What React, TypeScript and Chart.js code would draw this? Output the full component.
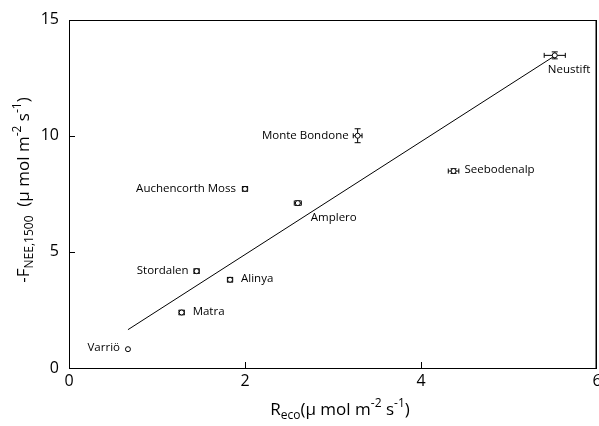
import React, { useEffect, useRef } from "react";
import { Chart, registerables } from "chart.js";
Chart.register(...registerables);

const sites = ["Neustift", "Monte Bondone", "Seebodenalp", "Auchencorth Moss", "Amplero", "Stordalen", "Alinya", "Matra", "Varriö"];
const reco = [5.52, 3.28, 4.37, 2.0, 2.6, 1.45, 1.83, 1.28, 0.67];
const fnee = [13.46, 10.0, 8.48, 7.71, 7.1, 4.17, 3.8, 2.39, 0.81];
const recoErr = [0.12, 0.05, 0.06, 0.03, 0.04, 0.03, 0.03, 0.03, 0.0];
const fneeErr = [0.15, 0.3, 0.1, 0.1, 0.1, 0.1, 0.1, 0.1, 0.0];
const fitX = [0.67, 5.52];
const fitY = [1.65, 13.44];
const xTicks = [0, 2, 4, 6];
const yTicks = [0, 5, 10, 15];

const FONT = "'Open Sans', 'Liberation Sans', sans-serif";

// label placement: [dx, dy, align]
const labelPos: Record<string, [number, number, CanvasTextAlign]> = {
  "Neustift": [-7, 14, "left"],
  "Monte Bondone": [-9, 0, "right"],
  "Seebodenalp": [11, -1, "left"],
  "Auchencorth Moss": [-9, 0, "right"],
  "Amplero": [13, 15, "left"],
  "Stordalen": [-8, 0, "right"],
  "Alinya": [11, -1, "left"],
  "Matra": [11, -1, "left"],
  "Varriö": [-8, -1, "right"],
};

type Seg = { t: string; k: "n" | "sub" | "sup" };

function drawRich(ctx: CanvasRenderingContext2D, segs: Seg[], size: number) {
  const w = segs.reduce((acc, s) => {
    ctx.font = `${s.k === "n" ? size : Math.round(size * 0.68)}px ${FONT}`;
    return acc + ctx.measureText(s.t).width;
  }, 0);
  let x = -w / 2;
  for (const s of segs) {
    const fs = s.k === "n" ? size : Math.round(size * 0.68);
    ctx.font = `${fs}px ${FONT}`;
    const dy = s.k === "sub" ? size * 0.3 : s.k === "sup" ? -size * 0.38 : 0;
    ctx.fillText(s.t, x, dy);
    x += ctx.measureText(s.t).width;
  }
}

const overlay = {
  id: "overlay",
  afterDraw(chart: any) {
    const ctx = chart.ctx as CanvasRenderingContext2D;
    const xs = chart.scales.x;
    const ys = chart.scales.y;
    const a = chart.chartArea;
    ctx.save();
    ctx.strokeStyle = "#000";
    ctx.fillStyle = "#000";
    ctx.lineWidth = 1;
    const L = Math.round(xs.getPixelForValue(0));
    const R = Math.round(xs.getPixelForValue(6));
    const T = Math.round(ys.getPixelForValue(15));
    const B = Math.round(ys.getPixelForValue(0));
    // frame as filled rects
    ctx.fillRect(L, T, R - L, 1);
    ctx.fillRect(L, B, R - L, 1);
    ctx.fillRect(L, T, 1, B - T + 1);
    ctx.fillRect(R - 1.5, T, 1.5, B - T + 1);
    // inward ticks
    for (const t of xTicks) {
      const px = Math.min(Math.round(xs.getPixelForValue(t)), R - 1);
      ctx.fillRect(px, B - 6, 1, 6);
    }
    for (const t of yTicks) {
      const py = Math.round(ys.getPixelForValue(t));
      ctx.fillRect(L, py, 6, 1);
    }
    // x tick labels
    ctx.font = `16px ${FONT}`;
    ctx.textAlign = "center";
    ctx.textBaseline = "top";
    for (const t of xTicks) {
      ctx.fillText(String(t), xs.getPixelForValue(t), a.bottom + 5);
    }
    // error bars + markers
    for (let i = 0; i < sites.length; i++) {
      const px = xs.getPixelForValue(reco[i]);
      const py = ys.getPixelForValue(fnee[i]);
      const x1 = xs.getPixelForValue(reco[i] - recoErr[i]);
      const x2 = xs.getPixelForValue(reco[i] + recoErr[i]);
      const y1 = ys.getPixelForValue(fnee[i] - fneeErr[i]);
      const y2 = ys.getPixelForValue(fnee[i] + fneeErr[i]);
      ctx.beginPath();
      if (recoErr[i] > 0) {
        ctx.moveTo(x1, py); ctx.lineTo(x2, py);
        ctx.moveTo(x1, py - 2.5); ctx.lineTo(x1, py + 2.5);
        ctx.moveTo(x2, py - 2.5); ctx.lineTo(x2, py + 2.5);
      }
      if (fneeErr[i] > 0) {
        ctx.moveTo(px, y1); ctx.lineTo(px, y2);
        ctx.moveTo(px - 3, y1); ctx.lineTo(px + 3, y1);
        ctx.moveTo(px - 3, y2); ctx.lineTo(px + 3, y2);
      }
      ctx.stroke();
      ctx.beginPath();
      ctx.fillStyle = "#fff";
      ctx.arc(px, py, 2.5, 0, Math.PI * 2);
      ctx.fill();
      ctx.stroke();
      // label
      const [dx, dy, al] = labelPos[sites[i]];
      ctx.fillStyle = "#000";
      ctx.font = `11.5px ${FONT}`;
      ctx.textAlign = al;
      ctx.textBaseline = "middle";
      ctx.fillText(sites[i], px + dx, py + dy);
    }
    // axis titles
    ctx.fillStyle = "#000";
    ctx.textAlign = "left";
    ctx.textBaseline = "middle";
    ctx.save();
    ctx.translate(340, 410);
    drawRich(ctx, [
      { t: "R", k: "n" }, { t: "eco", k: "sub" }, { t: "(µ mol m", k: "n" }, { t: "-2", k: "sup" },
      { t: " s", k: "n" }, { t: "-1", k: "sup" }, { t: ")", k: "n" },
    ], 17);
    ctx.restore();
    ctx.save();
    ctx.translate(24, 190);
    ctx.rotate(-Math.PI / 2);
    drawRich(ctx, [
      { t: "-F", k: "n" }, { t: "NEE,1500", k: "sub" }, { t: "  (µ mol m", k: "n" }, { t: "-2", k: "sup" },
      { t: " s", k: "n" }, { t: "-1", k: "sup" }, { t: ")", k: "n" },
    ], 17);
    ctx.restore();
    ctx.restore();
  },
};

export default function App() {
  const ref = useRef<HTMLCanvasElement>(null);
  useEffect(() => {
    document.body.style.margin = "0";
    document.documentElement.style.overflow = "hidden";
    const chart = new Chart(ref.current!, {
      type: "scatter",
      data: {
        datasets: [
          {
            type: "line",
            data: fitX.map((x, i) => ({ x, y: fitY[i] })),
            borderColor: "#000",
            borderWidth: 1,
            pointRadius: 0,
            fill: false,
          } as any,
          {
            data: reco.map((x, i) => ({ x, y: fnee[i] })),
            pointRadius: 0,
            showLine: false,
          },
        ],
      },
      options: {
        responsive: false,
        animation: false,
        layout: { padding: { top: 16, right: 2, left: 0, bottom: 0 } },
        plugins: { legend: { display: false }, tooltip: { enabled: false } },
        scales: {
          x: {
            type: "linear",
            min: 0,
            max: 6,
            afterFit: (s: any) => { s.height = 58; },
            grid: { display: false, drawTicks: false },
            border: { display: false },
            ticks: { display: false, stepSize: 2 },
          },
          y: {
            type: "linear",
            min: 0,
            max: 15,
            afterFit: (s: any) => { s.width = 69; },
            grid: { display: false, drawTicks: false },
            border: { display: false },
            ticks: { stepSize: 5, padding: 10, color: "#000", font: { family: FONT, size: 16 } },
          },
        },
      },
      plugins: [overlay],
    });
    return () => chart.destroy();
  }, []);
  return <canvas ref={ref} width={599} height={426} style={{ display: "block" }} />;
}
